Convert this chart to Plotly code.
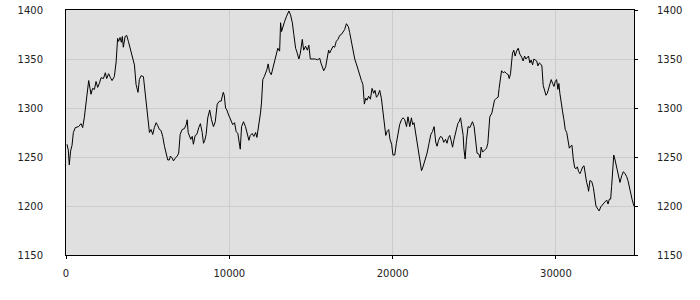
import plotly.graph_objects as go

x_values = [60, 140, 200, 280, 370, 450, 570, 770, 920, 1020, 1120, 1260, 1390, 1470, 1530, 1630, 1740, 1840, 1940, 2040,
            2150, 2290, 2410, 2490, 2610, 2720, 2820, 2960, 3070, 3160, 3220, 3310, 3390, 3450, 3510, 3620, 3720, 3820, 3940, 4050,
            4190, 4290, 4350, 4410, 4490, 4600, 4740, 4800, 4900, 5000, 5110, 5210, 5310, 5410, 5520, 5620, 5720, 5820, 5920, 6030,
            6130, 6230, 6330, 6390, 6500, 6580, 6700, 6810, 6900, 6990, 7110, 7250, 7360, 7420, 7480, 7560, 7640, 7730, 7800, 7910,
            8010, 8130, 8230, 8340, 8420, 8500, 8580, 8680, 8800, 8910, 9030, 9140, 9260, 9400, 9500, 9630, 9690, 9770, 9850, 9930,
            10010, 10210, 10320, 10420, 10520, 10580, 10670, 10750, 10870, 10990, 11070, 11200, 11280, 11400, 11500, 11610, 11690, 11810, 11910, 11970,
            12050, 12140, 12220, 12300, 12380, 12460, 12570, 12670, 12770, 12880, 12970, 13080, 13140, 13200, 13280, 13380, 13490, 13590, 13650, 13750,
            13860, 13950, 14060, 14160, 14260, 14350, 14470, 14550, 14670, 14780, 14870, 14960, 15120, 15280, 15410, 15530, 15610, 15700, 15780, 15900,
            16000, 16080, 16140, 16250, 16350, 16450, 16550, 16650, 16760, 16860, 16960, 17060, 17170, 17290, 17370, 17470, 17570, 17680, 17780, 17880,
            17980, 18090, 18180, 18270, 18350, 18430, 18530, 18640, 18740, 18840, 18920, 19010, 19100, 19210, 19310, 19410, 19520, 19580, 19660, 19760,
            19840, 19940, 20020, 20130, 20230, 20330, 20430, 20540, 20640, 20740, 20850, 20940, 21050, 21150, 21230, 21310, 21400, 21500, 21600, 21700,
            21770, 21860, 21990, 22110, 22230, 22340, 22440, 22540, 22640, 22720, 22810, 22930, 23030, 23130, 23240, 23330, 23420, 23500, 23580, 23670,
            23760, 23870, 23990, 24070, 24160, 24220, 24320, 24360, 24440, 24520, 24620, 24730, 24830, 24890, 24990, 25090, 25170, 25280, 25360, 25420,
            25510, 25630, 25750, 25830, 25910, 25950, 26080, 26160, 26240, 26360, 26460, 26520, 26610, 26670, 26770, 26870, 26980, 27080, 27140, 27220,
            27280, 27340, 27420, 27500, 27590, 27690, 27790, 27900, 27990, 28080, 28160, 28240, 28320, 28400, 28480, 28570, 28650, 28730, 28820, 28900,
            28980, 29060, 29140, 29220, 29310, 29390, 29470, 29550, 29630, 29710, 29800, 29880, 29960, 30040, 30120, 30180, 30240, 30320, 30410, 30490,
            30570, 30660, 30740, 30820, 30900, 30980, 31060, 31150, 31230, 31310, 31390, 31470, 31550, 31640, 31720, 31800, 31880, 31960, 32000, 32080,
            32190, 32290, 32370, 32450, 32560, 32650, 32740, 32860, 32990, 33110, 33190, 33270, 33350, 33410, 33480, 33540, 33620, 33720, 33820, 33920,
            34030, 34130, 34230, 34330, 34410, 34490, 34580, 34660, 34740, 34780]

y_values = [1263, 1257, 1242, 1256, 1262, 1275, 1280, 1281, 1284, 1280, 1290, 1308, 1328, 1320, 1314, 1320, 1319, 1327, 1321, 1325,
            1331, 1330, 1336, 1330, 1335, 1331, 1328, 1332, 1347, 1371, 1368, 1372, 1367, 1373, 1362, 1373, 1374, 1368, 1360, 1352,
            1344, 1324, 1321, 1316, 1329, 1333, 1332, 1323, 1302, 1290, 1275, 1278, 1273, 1280, 1285, 1282, 1278, 1277, 1271, 1261,
            1252, 1247, 1247, 1251, 1249, 1246, 1249, 1251, 1254, 1273, 1278, 1279, 1283, 1288, 1275, 1271, 1268, 1271, 1263, 1272,
            1273, 1280, 1284, 1275, 1264, 1267, 1273, 1290, 1298, 1288, 1281, 1286, 1304, 1307, 1307, 1316, 1313, 1300, 1298, 1294,
            1291, 1283, 1285, 1276, 1274, 1268, 1258, 1281, 1286, 1281, 1276, 1267, 1272, 1274, 1271, 1275, 1270, 1282, 1295, 1305,
            1329, 1332, 1335, 1339, 1345, 1337, 1334, 1341, 1348, 1356, 1361, 1358, 1387, 1378, 1383, 1388, 1393, 1397, 1399, 1395,
            1387, 1375, 1361, 1356, 1350, 1356, 1370, 1359, 1363, 1359, 1364, 1350, 1350, 1350, 1349, 1351, 1346, 1342, 1338, 1342,
            1354, 1359, 1356, 1360, 1363, 1362, 1368, 1370, 1374, 1375, 1378, 1380, 1386, 1383, 1377, 1368, 1356, 1350, 1345, 1339,
            1332, 1328, 1324, 1304, 1310, 1308, 1312, 1309, 1320, 1315, 1318, 1311, 1313, 1318, 1310, 1296, 1284, 1272, 1276, 1278,
            1268, 1263, 1252, 1252, 1264, 1275, 1283, 1288, 1290, 1288, 1281, 1291, 1281, 1290, 1283, 1285, 1275, 1261, 1252, 1243,
            1236, 1240, 1247, 1254, 1264, 1273, 1276, 1281, 1265, 1261, 1267, 1271, 1270, 1265, 1268, 1264, 1270, 1272, 1267, 1260,
            1268, 1277, 1284, 1286, 1290, 1283, 1272, 1259, 1248, 1267, 1281, 1280, 1284, 1286, 1281, 1264, 1254, 1253, 1249, 1260,
            1255, 1257, 1259, 1264, 1283, 1291, 1295, 1301, 1308, 1310, 1311, 1320, 1332, 1338, 1336, 1337, 1335, 1334, 1330, 1335,
            1346, 1356, 1359, 1353, 1358, 1361, 1355, 1352, 1348, 1353, 1350, 1352, 1353, 1346, 1349, 1344, 1350, 1349, 1348, 1343,
            1346, 1345, 1343, 1323, 1318, 1313, 1315, 1319, 1324, 1329, 1325, 1322, 1327, 1329, 1319, 1325, 1315, 1308, 1296, 1288,
            1278, 1275, 1268, 1259, 1261, 1262, 1248, 1239, 1238, 1240, 1235, 1233, 1236, 1240, 1241, 1230, 1224, 1219, 1215, 1226,
            1225, 1219, 1209, 1200, 1197, 1195, 1199, 1202, 1204, 1206, 1202, 1207, 1207, 1220, 1237, 1252, 1247, 1238, 1231, 1224,
            1231, 1235, 1233, 1230, 1226, 1219, 1213, 1207, 1202, 1200]

x_range = [0, 34780]
y_range = [1150, 1400]
y_ticks = [1150, 1200, 1250, 1300, 1350, 1400]
x_ticks = [0, 10000, 20000, 30000]

font = dict(family="DejaVu Sans", size=10, color="#222222")

fig = go.Figure()
fig.add_trace(go.Scatter(x=x_values, y=y_values, mode="lines",
                         line=dict(color="#000000", width=1), showlegend=False,
                         hoverinfo="skip"))
fig.add_trace(go.Scatter(x=x_values, y=y_values, mode="lines", yaxis="y2",
                         line=dict(color="rgba(0,0,0,0)", width=1), showlegend=False,
                         hoverinfo="skip"))

fig.update_layout(
    width=700, height=300,
    margin=dict(l=66, r=66, t=10, b=45, pad=0),
    paper_bgcolor="#ffffff",
    plot_bgcolor="#e0e0e0",
    font=font,
    xaxis=dict(range=x_range, tickvals=x_ticks, ticktext=[str(v) for v in x_ticks],
               showline=True, linecolor="#000000", linewidth=1, mirror=True,
               ticks="outside", ticklen=3, tickcolor="#000000", automargin=False,
               showgrid=True, gridcolor="#cccccc", gridwidth=1, zeroline=False,
               ticklabelstandoff=6, tickfont=font),
    yaxis=dict(range=y_range, tickvals=y_ticks, ticktext=[str(v) for v in y_ticks],
               showline=True, linecolor="#000000", linewidth=1, mirror=True,
               ticks="", showgrid=True, gridcolor="#cccccc", gridwidth=1, zeroline=False,
               ticklabelstandoff=20, tickfont=font, automargin=False),
    yaxis2=dict(range=y_range, tickvals=y_ticks, ticktext=[str(v) for v in y_ticks],
                overlaying="y", side="right", showline=False, automargin=False,
                ticks="outside", ticklen=3, tickcolor="#000000",
                showgrid=False, zeroline=False, ticklabelstandoff=17, tickfont=font),
)

fig.write_html("out.html")
